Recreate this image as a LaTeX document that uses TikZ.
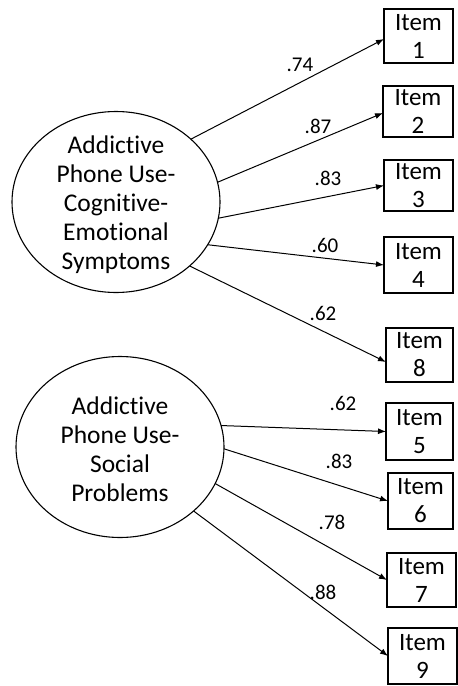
\documentclass[tikz,border=0pt]{standalone}
\usepackage{fontspec}
\setmainfont{Carlito}[Ligatures=NoCommon]
\usetikzlibrary{shapes.geometric,arrows.meta,calc}
\begin{document}
\begin{tikzpicture}[x=1pt,y=-1pt,
  latent/.style={draw, ellipse, line width=1.1pt, minimum width=208pt, minimum height=181pt, inner sep=0pt, outer sep=0pt},
  ltext/.style={align=center, font=\fontsize{25.5}{29}\selectfont, inner sep=0pt},
  itembox/.style={draw, line width=1.2pt, align=center, font=\fontsize{25}{28}\selectfont, inner sep=0pt, outer sep=0pt},
  loadlab/.style={font=\fontsize{21}{22}\selectfont, inner sep=0pt},
  ld/.style={line width=1pt, -{Latex[length=8pt,width=6pt]}}]
\useasboundingbox (0,0) rectangle (458,686);

% latent factors
\node[latent] (e1) at (116,202) {};
\node[ltext] (t1) at (116,205) {Addictive\\Phone Use-\\Cognitive-\\Emotional\\Symptoms};
\node[latent] (e2) at (120,447) {};
\node[ltext] (t2) at (120,449) {Addictive\\Phone Use-\\Social\\Problems};

% items
\node[itembox, minimum width=69pt, minimum height=54pt] (b1) at (418.5,36) {Item\\1};
\node[itembox, minimum width=70pt, minimum height=51pt] (b2) at (418,111.5) {Item\\2};
\node[itembox, minimum width=69pt, minimum height=51pt] (b3) at (418.5,185.5) {Item\\3};
\node[itembox, minimum width=69pt, minimum height=56pt] (b4) at (418.5,265) {Item\\4};
\node[itembox, minimum width=67pt, minimum height=54pt] (b8) at (419.5,355) {Item\\8};
\node[itembox, minimum width=67pt, minimum height=57pt] (b5) at (419.5,431.5) {Item\\5};
\node[itembox, minimum width=65pt, minimum height=56pt] (b6) at (420.5,501) {Item\\6};
\node[itembox, minimum width=69pt, minimum height=54pt] (b7) at (421.5,580) {Item\\7};
\node[itembox, minimum width=69pt, minimum height=56pt] (b9) at (422.5,656) {Item\\9};

% loadings
\draw[ld] (e1.40)    -- ($(b1.west)+(0,3)$);
\draw[ld] (e1.11.6)  -- ($(b2.west)+(0,1.5)$);
\draw[ld] (e1.-9.4)  -- (b3.west);
\draw[ld] (e1.-25)   -- (b4.west);
\draw[ld] (e1.-41.7) -- ($(b8.west)+(0,7)$);
\draw[ld] (e2.12)    -- (b5.west);
\draw[ld] (e2.-1)    -- (b6.west);
\draw[ld] (e2.-21.7) -- (b7.west);
\draw[ld] (e2.-41.8) -- (b9.west);

% labels
\node[loadlab] (l1) at (300,65)  {.74};
\node[loadlab] (l2) at (318,126) {.87};
\node[loadlab] (l3) at (328,178) {.83};
\node[loadlab] (l4) at (325,245) {.60};
\node[loadlab] (l8) at (323,313) {.62};
\node[loadlab] (l5) at (343,403) {.62};
\node[loadlab] (l6) at (339,461) {.83};
\node[loadlab] (l7) at (332,522) {.78};
\node[loadlab] (l9) at (323,592) {.88};
\end{tikzpicture}
\end{document}
